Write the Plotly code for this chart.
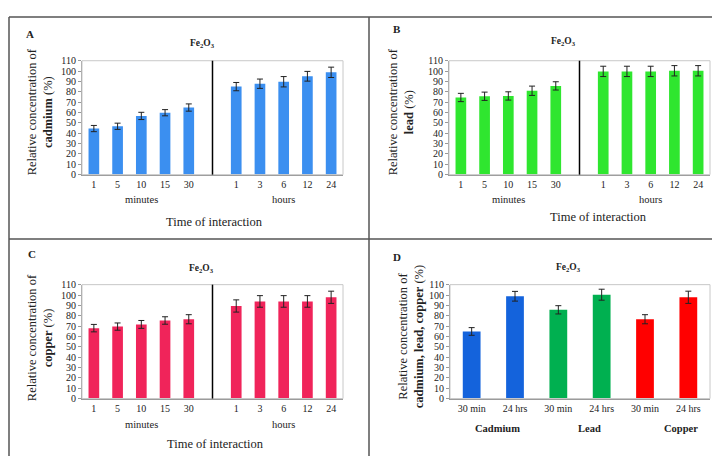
import plotly.graph_objects as go

# The page body adds an 8 px margin; the figure is sized to fill the rest.
OFF = 8
W, H = 720 - OFF, 462 - OFF

# ---------------- data ----------------
minute_labels = ["1", "5", "10", "15", "30"]
hour_labels = ["1", "3", "6", "12", "24"]

cadmium_min = [44.5, 46.7, 56.7, 59.8, 64.8]
cadmium_min_err = [3.0, 3.0, 3.5, 3.0, 3.5]
cadmium_hr = [85.0, 87.8, 89.7, 95.0, 98.8]
cadmium_hr_err = [4.0, 4.5, 5.0, 4.7, 5.0]

lead_min = [74.5, 75.7, 76.0, 81.0, 85.7]
lead_min_err = [4.0, 4.0, 4.0, 4.5, 4.0]
lead_hr = [99.7, 99.7, 99.7, 100.3, 100.3]
lead_hr_err = [5.0, 5.0, 5.0, 5.0, 5.0]

copper_min = [68.0, 69.5, 71.6, 75.4, 76.6]
copper_min_err = [3.6, 3.5, 3.8, 3.6, 4.4]
copper_hr = [89.4, 93.8, 93.8, 93.8, 97.8]
copper_hr_err = [5.9, 5.6, 5.6, 5.6, 5.9]

d_labels = ["30 min", "24 hrs", "30 min", "24 hrs", "30 min", "24 hrs"]
d_groups = ["Cadmium", "Lead", "Copper"]
d_values = [cadmium_min[-1], cadmium_hr[-1], lead_min[-1], lead_hr[-1], copper_min[-1], copper_hr[-1]]
d_err = [3.7, 4.7, 4.0, 5.3, 4.4, 5.9]

# ---------------- style ----------------
FONT = "Liberation Serif"
col_a = "#3b8ff0"
col_b = "#2fe62f"
col_c = "#f0245a"
col_d = ["#1463dc", "#1463dc", "#00b050", "#00b050", "#ff0000", "#ff0000"]


def px(x):
    return (x - OFF) / W


def py(y):
    return 1 - (y - OFF) / H


fig = go.Figure()

x_min_pos = list(range(len(minute_labels)))
x_hr_pos = [len(minute_labels) + 1 + i for i in range(len(hour_labels))]
tick_pos = x_min_pos + x_hr_pos
tick_txt = minute_labels + hour_labels

panels = [
    ("x", "y", cadmium_min, cadmium_min_err, cadmium_hr, cadmium_hr_err, col_a),
    ("x2", "y2", lead_min, lead_min_err, lead_hr, lead_hr_err, col_b),
    ("x3", "y3", copper_min, copper_min_err, copper_hr, copper_hr_err, col_c),
]

for xa, ya, vm, em, vh, eh, c in panels:
    fig.add_trace(go.Bar(
        x=x_min_pos + x_hr_pos, y=vm + vh, xaxis=xa, yaxis=ya,
        marker=dict(color=c, line=dict(width=0)), width=0.45,
        error_y=dict(type="data", array=em + eh, color="#222", thickness=1, width=3),
        showlegend=False,
    ))

fig.add_trace(go.Bar(
    x=list(range(len(d_values))), y=d_values, xaxis="x4", yaxis="y4",
    marker=dict(color=col_d, line=dict(width=0)), width=0.41,
    error_y=dict(type="data", array=d_err, color="#222", thickness=1, width=3),
    showlegend=False,
))

# plot-area pixel boxes in window coordinates (left, right, top, bottom)
boxes = {
    "1": (82, 343, 56, 173),
    "2": (449, 710, 56, 173),
    "3": (82, 343, 286, 403),
    "4": (450, 710, 286, 403),
}

layout = dict(
    width=W, height=H, margin=dict(l=0, r=0, t=0, b=0),
    paper_bgcolor="white", plot_bgcolor="white",
    font=dict(family=FONT, color="#222", size=10),
    bargap=0.5,
)

for k, (l, r, t, b) in boxes.items():
    sx = "" if k == "1" else k
    xa = dict(
        domain=[px(l), px(r)], anchor="y" + sx,
        showline=True, linecolor="#999", linewidth=1, mirror=False,
        showgrid=False, zeroline=False, ticks="", fixedrange=True,
        tickfont=dict(size=10, family=FONT, color="#222"),
    )
    if k == "4":
        xa.update(range=[-0.5, len(d_values) - 0.5], tickmode="array",
                  tickvals=list(range(len(d_values))), ticktext=d_labels)
    else:
        xa.update(range=[-0.5, len(tick_pos) + 0.5], tickmode="array",
                  tickvals=tick_pos, ticktext=tick_txt)
    ya = dict(
        domain=[py(b), py(t)], anchor="x" + sx,
        range=[0, 110], dtick=10, tick0=0,
        showline=True, linecolor="#999", linewidth=1,
        ticks="outside", ticklen=3, tickcolor="#999", tickwidth=1,
        showgrid=False, zeroline=False, fixedrange=True,
        tickfont=dict(size=10, family=FONT, color="#222"),
    )
    layout["xaxis" + sx] = xa
    layout["yaxis" + sx] = ya

fig.update_layout(**layout)

shapes = []
# light border round each plot area
for k, (l, r, t, b) in boxes.items():
    shapes.append(dict(type="rect", xref="paper", yref="paper",
                       x0=px(l), x1=px(r), y0=py(b), y1=py(t),
                       line=dict(color="#c8c8c8", width=1)))
# divider between minutes and hours
for xa, ya in [("x", "y"), ("x2", "y2"), ("x3", "y3")]:
    shapes.append(dict(type="line", xref=xa, yref=ya + " domain",
                       x0=len(minute_labels), x1=len(minute_labels), y0=0, y1=1,
                       line=dict(color="black", width=1.5)))
# outer frame and panel dividers
frame = dict(color="#555", width=1.5)
shapes += [
    dict(type="line", xref="paper", yref="paper", x0=px(9), x1=px(9), y0=py(11), y1=0, line=frame),
    dict(type="line", xref="paper", yref="paper", x0=px(9), x1=1, y0=py(11), y1=py(11), line=frame),
    dict(type="line", xref="paper", yref="paper", x0=px(369), x1=px(369), y0=py(11), y1=0, line=frame),
    dict(type="line", xref="paper", yref="paper", x0=px(9), x1=1, y0=py(239), y1=py(239), line=frame),
]
fig.update_layout(shapes=shapes)

ann = []


def text(x, y, s, size, bold=False, angle=0, xref="paper"):
    ann.append(dict(
        x=px(x) if xref == "paper" else x, y=py(y), xref=xref, yref="paper",
        text=s, showarrow=False,
        font=dict(family=FONT, size=size, color="#222",
                  weight="bold" if bold else "normal"),
        xanchor="center", yanchor="middle", textangle=angle,
    ))


# panel letters
text(30, 29, "A", 11, bold=True)
text(397, 23, "B", 11, bold=True)
text(32, 255, "C", 11, bold=True)
text(397, 258, "D", 11, bold=True)

# Fe2O3 titles
fe = "Fe<sub>2</sub>O<sub>3</sub>"
text(202, 38, fe, 9.5, bold=True)
text(563, 36, fe, 9.5, bold=True)
text(201, 269, fe, 9.5, bold=True)
text(568, 268, fe, 9.5, bold=True)

# y titles
text(40, 109, "Relative concentration of<br><b>cadmium</b> (%)", 12.5, angle=-90)
text(401, 109, "Relative concentration of<br><b>lead</b> (%)", 12.5, angle=-90)
text(40, 341, "Relative concentration of<br><b>copper</b> (%)", 12.5, angle=-90)
text(411, 340, "Relative concentration of<br><b>cadmium, lead, copper</b> (%)", 12.5, angle=-90)

# minutes / hours group labels
for xa, ymh in [("x", 199), ("x2", 199), ("x3", 430)]:
    text(2, ymh, "minutes", 10.5, xref=xa)
    text(8, ymh, "hours", 10.5, xref=xa)

# Time of interaction
text(214, 222, "Time of interaction", 12.5)
text(598, 217, "Time of interaction", 12.5)
text(215, 450, "Time of interaction", 12.5)

# panel D group labels
for i, g in enumerate(d_groups):
    text(2 * i + 0.5 + 0.12 * i + 0.1, 434, g, 10.5, bold=True, xref="x4")

fig.update_layout(annotations=ann)

fig.write_html("out.html")
